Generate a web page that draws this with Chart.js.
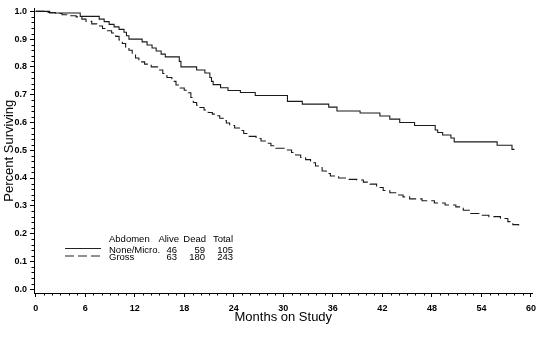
<!DOCTYPE html>
<html>
<head>
<meta charset="utf-8">
<script src="https://cdn.jsdelivr.net/npm/chart.js@4.4.1/dist/chart.umd.min.js"></script>
<style>
    html, body { margin: 0; padding: 0; background: #fff; }
    canvas { display: block; }
</style>
</head>
<body>
<canvas id="survival-chart" width="542" height="338"></canvas>
<script>
    // None/Micro. group (solid line)
    var noneMonths = [0, 1.7, 5.4, 7.7, 8.3, 8.9, 9.5, 10.1, 10.7, 11.0, 11.3, 12.9, 13.5, 14.1, 14.6, 15.2, 15.7,
        17.4, 17.6, 19.5, 20.5, 21.1, 21.3, 21.5, 22.4, 23.3, 24.8, 26.6, 30.5, 32.3, 35.5, 36.5,
        39.3, 41.7, 42.9, 44.1, 45.9, 48.4, 48.7, 49.3, 50.3, 50.7, 55.9, 57.7, 58.0];
    var noneSurvival = [1.0, 0.994, 0.982, 0.972, 0.963, 0.953, 0.944, 0.935, 0.925, 0.912, 0.90, 0.89, 0.879, 0.868, 0.857, 0.846, 0.836,
        0.82, 0.80, 0.789, 0.778, 0.762, 0.748, 0.736, 0.725, 0.715, 0.708, 0.697, 0.676, 0.666, 0.655, 0.641,
        0.634, 0.623, 0.612, 0.600, 0.589, 0.573, 0.564, 0.555, 0.544, 0.530, 0.518, 0.503, 0.503];

    // Gross group (dashed line)
    var grossMonths = [0, 1.3, 2.4, 3.2, 4.1, 4.9, 5.6, 6.1, 6.8, 7.4, 8.1, 8.7, 9.2, 9.7, 10.1, 10.5, 10.9, 11.3, 11.7, 12.1, 12.5,
        13.2, 14.0, 14.9, 15.4, 15.9, 16.5, 17.0, 17.5, 18.0, 18.5, 18.8, 19.1, 19.5, 19.9, 20.4, 20.9, 21.4, 21.9,
        22.3, 22.7, 23.1, 23.5, 24.1, 24.7, 25.2, 25.7, 26.7, 27.3, 27.9, 28.5, 29.1, 30.5, 31.0, 31.5, 32.1, 32.7,
        33.3, 33.9, 34.7, 35.2, 35.7, 36.7, 37.7, 38.9, 39.7, 40.5, 41.3, 42.1, 42.9, 43.7, 44.5, 45.3, 46.8, 48.3,
        49.6, 50.9, 51.8, 52.7, 53.8, 54.9, 56.3, 57.2, 57.8, 58.5];
    var grossSurvival = [1.0, 0.996, 0.992, 0.988, 0.984, 0.98, 0.972, 0.964, 0.955, 0.947, 0.938, 0.93, 0.922, 0.91, 0.897, 0.884, 0.871, 0.86, 0.847, 0.832, 0.818,
        0.81, 0.80, 0.789, 0.776, 0.762, 0.748, 0.735, 0.724, 0.716, 0.707, 0.69, 0.672, 0.662, 0.654, 0.645, 0.636, 0.63, 0.624,
        0.615, 0.607, 0.598, 0.589, 0.58, 0.571, 0.56, 0.55, 0.542, 0.533, 0.525, 0.516, 0.507, 0.501, 0.492, 0.483, 0.474, 0.466,
        0.455, 0.443, 0.425, 0.416, 0.407, 0.400, 0.395, 0.393, 0.385, 0.378, 0.366, 0.355, 0.347, 0.339, 0.332, 0.325, 0.318, 0.31,
        0.303, 0.296, 0.284, 0.272, 0.266, 0.261, 0.254, 0.243, 0.232, 0.229];

    var xTicks = [0, 6, 12, 18, 24, 30, 36, 42, 48, 54, 60];
    var yTicks = [0.0, 0.1, 0.2, 0.3, 0.4, 0.5, 0.6, 0.7, 0.8, 0.9, 1.0];

    // legend table
    var legendHeader = ['Abdomen', 'Alive', 'Dead', 'Total'];
    var legendGroups = ['None/Micro.', 'Gross'];
    var legendAlive = [46, 63];
    var legendDead = [59, 180];
    var legendTotal = [105, 243];

    var FONT = "'Liberation Sans', Arial, Helvetica, sans-serif";
    Chart.defaults.font.family = FONT;
    Chart.defaults.color = '#000';

    function toPoints(xs, ys) {
        return xs.map(function (m, i) { return { x: m, y: ys[i] }; });
    }

    // small ticks between the labelled ones
    var minorTicks = {
        id: 'minorTicks',
        afterDraw: function (chart) {
            var ctx = chart.ctx, x = chart.scales.x, y = chart.scales.y;
            ctx.save();
            ctx.strokeStyle = '#000';
            ctx.lineWidth = 1;
            ctx.beginPath();
            for (var m = 0; m <= 60; m++) {
                if (m % 6 === 0) continue;
                var px = Math.round(x.getPixelForValue(m)) + 0.5;
                ctx.moveTo(px, y.bottom);
                ctx.lineTo(px, y.bottom + 2.5);
            }
            for (var k = 0; k <= 50; k++) {
                if (k % 5 === 0) continue;
                var py = Math.round(y.getPixelForValue(k / 50)) + 0.5;
                ctx.moveTo(x.left - 2.5, py);
                ctx.lineTo(x.left, py);
            }
            ctx.stroke();
            ctx.restore();
        }
    };

    var legendTable = {
        id: 'legendTable',
        afterDraw: function (chart) {
            var ctx = chart.ctx;
            var rows = [250, 257.5];
            ctx.save();
            ctx.fillStyle = '#000';
            ctx.strokeStyle = '#222';
            ctx.lineWidth = 1;
            ctx.font = '9.5px ' + FONT;
            ctx.textBaseline = 'middle';

            ctx.textAlign = 'left';
            ctx.fillText(legendHeader[0], 109, 239);
            ctx.textAlign = 'right';
            ctx.fillText(legendHeader[1], 179, 239);
            ctx.fillText(legendHeader[2], 206, 239);
            ctx.fillText(legendHeader[3], 233, 239);

            for (var i = 0; i < legendGroups.length; i++) {
                ctx.beginPath();
                ctx.setLineDash(i === 0 ? [] : [9, 4]);
                ctx.moveTo(65, rows[i] - 1.5);
                ctx.lineTo(101, rows[i] - 1.5);
                ctx.stroke();
                ctx.textAlign = 'left';
                ctx.fillText(legendGroups[i], 109, rows[i]);
                ctx.textAlign = 'right';
                ctx.fillText(String(legendAlive[i]), 177, rows[i]);
                ctx.fillText(String(legendDead[i]), 205, rows[i]);
                ctx.fillText(String(legendTotal[i]), 233, rows[i]);
            }
            ctx.restore();
        }
    };

    var ctx = document.getElementById('survival-chart').getContext('2d');
    new Chart(ctx, {
        type: 'line',
        data: {
            datasets: [{
                label: 'None/Micro.',
                data: toPoints(noneMonths, noneSurvival),
                stepped: 'before',
                borderColor: '#1a1a1a',
                borderWidth: 1.1,
                pointRadius: 0,
                fill: false
            },
            {
                label: 'Gross',
                data: toPoints(grossMonths, grossSurvival),
                stepped: 'before',
                borderColor: '#1a1a1a',
                borderWidth: 1.1,
                borderDash: [9, 4],
                pointRadius: 0,
                fill: false
            }]
        },
        options: {
            responsive: false,
            animation: false,
            devicePixelRatio: 1,
            layout: {
                padding: { left: 0, right: 5, top: 2, bottom: 0 }
            },
            plugins: {
                legend: { display: false },
                tooltip: { enabled: false }
            },
            scales: {
                x: {
                    type: 'linear',
                    min: -0.2,
                    max: 60.2,
                    afterBuildTicks: function (s) {
                        s.ticks = xTicks.map(function (v) { return { value: v }; });
                    },
                    afterFit: function (s) { s.height = 45; },
                    ticks: {
                        autoSkip: false,
                        maxRotation: 0,
                        padding: 6,
                        color: '#000',
                        font: { size: 9, weight: 'bold' }
                    },
                    grid: {
                        drawOnChartArea: false,
                        tickLength: 4,
                        tickColor: '#000'
                    },
                    border: { color: '#000', width: 1 },
                    title: {
                        display: true,
                        text: 'Months on Study',
                        color: '#000',
                        font: { size: 13 },
                        padding: { top: 0, bottom: 13 }
                    }
                },
                y: {
                    type: 'linear',
                    min: -0.014,
                    max: 1.0106,
                    afterBuildTicks: function (s) {
                        s.ticks = yTicks.map(function (v) { return { value: v }; });
                    },
                    afterFit: function (s) { s.width = 34; },
                    ticks: {
                        padding: 3,
                        color: '#000',
                        font: { size: 9, weight: 'bold' },
                        callback: function (v) { return Number(v).toFixed(1); }
                    },
                    grid: {
                        drawOnChartArea: false,
                        tickLength: 4,
                        tickColor: '#000'
                    },
                    border: { color: '#000', width: 1 },
                    title: {
                        display: true,
                        text: 'Percent Surviving',
                        color: '#000',
                        font: { size: 13 },
                        padding: { top: 2, bottom: 0 }
                    }
                }
            }
        },
        plugins: [minorTicks, legendTable]
    });
</script>
</body>
</html>
